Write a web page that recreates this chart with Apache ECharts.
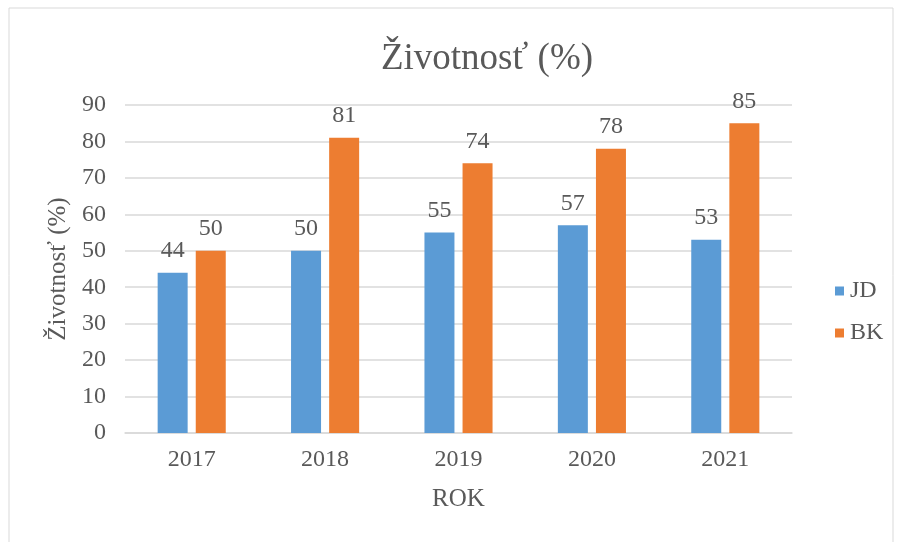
<!DOCTYPE html>
<html lang="sk">
<head>
    <meta charset="UTF-8">
    <title>Životnosť</title>
    <style>
        html, body { margin: 0; padding: 0; background: #fff; }
        #main { width: 897px; height: 542px; }
    </style>
</head>
<body>
<div id="main"></div>
<script src="https://cdn.jsdelivr.net/npm/echarts@6/dist/echarts.min.js"></script>
<script>
    var years = ['2017', '2018', '2019', '2020', '2021'];
    var jd = [44, 50, 55, 57, 53];
    var bk = [50, 81, 74, 78, 85];

    var font = '"Liberation Serif", "Times New Roman", serif';
    var gray = '#595959';

    var chart = echarts.init(document.getElementById('main'));
    chart.setOption({
        color: ['#5B9BD5', '#ED7D31'],
        textStyle: { fontFamily: font },
        graphic: [{
            type: 'rect',
            shape: { x: 9, y: 8, width: 884, height: 560 },
            style: { fill: 'none', stroke: '#d9d9d9', lineWidth: 1 },
            silent: true
        }],
        title: {
            text: 'Životnosť (%)',
            left: 482,
            textAlign: 'center',
            top: 36,
            textStyle: { fontFamily: font, fontSize: 37, fontWeight: 'normal', color: gray }
        },
        legend: {
            orient: 'vertical',
            left: 830,
            top: 274,
            itemWidth: 9,
            itemHeight: 9,
            itemGap: 18,
            icon: 'rect',
            textStyle: { fontFamily: font, fontSize: 24, color: gray, padding: [0, 0, 0, 1] },
            data: ['JD', 'BK']
        },
        grid: { left: 125, right: 105, top: 105, bottom: 109, containLabel: false },
        xAxis: {
            type: 'category',
            data: years,
            name: 'ROK',
            nameLocation: 'middle',
            nameGap: 54,
            nameTextStyle: { fontFamily: font, fontSize: 25, color: gray },
            axisLine: { lineStyle: { color: '#d9d9d9', width: 1.5 } },
            axisTick: { show: false },
            axisLabel: { fontFamily: font, fontSize: 24, color: gray, margin: 15 }
        },
        yAxis: {
            type: 'value',
            min: 0,
            max: 90,
            interval: 10,
            name: 'Životnosť (%)',
            nameLocation: 'middle',
            nameGap: 51,
            nameTextStyle: { fontFamily: font, fontSize: 25, color: gray },
            axisLine: { show: false },
            axisTick: { show: false },
            splitLine: { lineStyle: { color: '#d9d9d9', width: 1.5 } },
            axisLabel: { fontFamily: font, fontSize: 24, color: gray, margin: 19 }
        },
        series: [
            {
                name: 'JD',
                type: 'bar',
                data: jd,
                barWidth: 30,
                barGap: '27%',
                label: { show: true, position: 'top', distance: 10, fontFamily: font, fontSize: 24, color: gray }
            },
            {
                name: 'BK',
                type: 'bar',
                data: bk,
                barWidth: 30,
                barGap: '27%',
                label: { show: true, position: 'top', distance: 10, fontFamily: font, fontSize: 24, color: gray }
            }
        ]
    });
</script>
</body>
</html>
